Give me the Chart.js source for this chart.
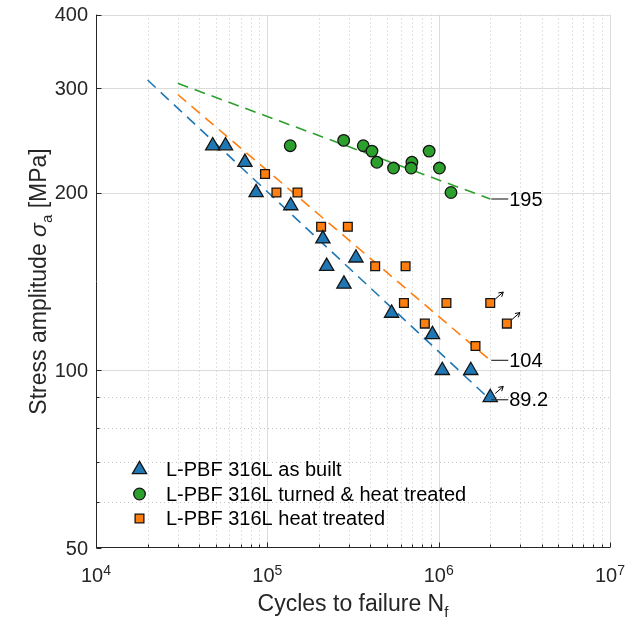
<!DOCTYPE html>
<html>
<head>
<meta charset="utf-8">
<script src="https://cdn.jsdelivr.net/npm/chart.js@4.4.0/dist/chart.umd.min.js"></script>
<style>
  html, body { margin: 0; padding: 0; background: #fff; }
  #wrap { width: 640px; height: 624px; }
</style>
</head>
<body>
<div id="wrap"><canvas id="snChart" width="640" height="624"></canvas></div>
<script>
// cycles to failure and stress amplitude (MPa)
const asBuiltN = [4.8e4, 5.7e4, 7.4e4, 8.6e4, 1.37e5, 2.11e5, 2.22e5, 2.8e5, 3.29e5, 5.31e5, 9.2e5, 1.05e6, 1.54e6, 2.0e6];
const asBuiltS = [240, 240, 225, 200, 190, 167, 150, 140, 155, 125, 115, 100, 100, 90];
const asBuiltRunouts = [13];

const turnedN = [1.36e5, 2.79e5, 3.63e5, 4.08e5, 4.36e5, 5.45e5, 6.98e5, 6.91e5, 8.8e5, 1.01e6, 1.18e6];
const turnedS = [240, 245, 240, 235, 225, 220, 225, 220, 235, 220, 200];
const turnedRunouts = [];

const heatN = [9.7e4, 1.13e5, 1.5e5, 2.06e5, 2.95e5, 4.26e5, 6.41e5, 6.27e5, 1.11e6, 2.0e6, 8.3e5, 2.5e6, 1.64e6];
const heatS = [215, 200, 200, 175, 175, 150, 150, 130, 130, 130, 120, 120, 110];
const heatRunouts = [9, 11];

// fitted lines: first and last point of each
const fitAsBuiltN = [2e4, 2e6];
const fitAsBuiltS = [310, 89.2];
const fitTurnedN = [3e4, 2e6];
const fitTurnedS = [306, 195];
const fitHeatN = [3e4, 2e6];
const fitHeatS = [293, 104];

const xMajorTicks = [1e4, 1e5, 1e6, 1e7];
const xMinorTicks = [2e4, 3e4, 4e4, 5e4, 6e4, 7e4, 8e4, 9e4,
                     2e5, 3e5, 4e5, 5e5, 6e5, 7e5, 8e5, 9e5,
                     2e6, 3e6, 4e6, 5e6, 6e6, 7e6, 8e6, 9e6];
const yTicks = [50, 100, 200, 300, 400];
const yMinorTicks = [60, 70, 80, 90];

const BLUE = '#1f77b4';
const GREEN = '#2ca02c';
const ORANGE = '#ff7f0e';
const EDGE = '#151515';
const INK = '#262626';
const FONT = '"Liberation Sans", Arial, Helvetica, sans-serif';

const toPoints = (ns, ss) => ns.map((n, i) => ({ x: n, y: ss[i] }));

const markerSet = (label, ns, ss, style, radius, color, runouts) => ({
    label,
    data: toPoints(ns, ss),
    showLine: false,
    pointStyle: style,
    pointRadius: radius,
    pointHoverRadius: radius,
    backgroundColor: color,
    pointBackgroundColor: color,
    borderColor: EDGE,
    pointBorderColor: EDGE,
    pointBorderWidth: 1.3,
    runouts
});

const fitSet = (ns, ss, color) => ({
    label: '',
    data: toPoints(ns, ss),
    showLine: true,
    fill: false,
    borderColor: color,
    borderWidth: 1.6,
    borderDash: [11, 7],
    pointRadius: 0,
    isFit: true
});

const drawMarker = (ctx, style, x, y, r) => {
    ctx.beginPath();
    if (style === 'circle') {
        ctx.arc(x, y, r, 0, Math.PI * 2);
    } else if (style === 'triangle') {
        ctx.moveTo(x, y - r);
        ctx.lineTo(x + r * Math.sin(Math.PI * 2 / 3), y + r / 2);
        ctx.lineTo(x - r * Math.sin(Math.PI * 2 / 3), y + r / 2);
    } else {
        const s = r * Math.SQRT1_2;
        ctx.rect(x - s, y - s, 2 * s, 2 * s);
    }
    ctx.closePath();
    ctx.fill();
    ctx.stroke();
};

const drawRunout = (ctx, px, py) => {
    const x0 = px + 5, y0 = py - 4, x1 = px + 13, y1 = py - 11;
    const ang = Math.atan2(y1 - y0, x1 - x0);
    ctx.beginPath();
    ctx.moveTo(x0, y0);
    ctx.lineTo(x1, y1);
    ctx.moveTo(x1 + 5 * Math.cos(ang + 2.6), y1 + 5 * Math.sin(ang + 2.6));
    ctx.lineTo(x1, y1);
    ctx.lineTo(x1 + 5 * Math.cos(ang - 2.6), y1 + 5 * Math.sin(ang - 2.6));
    ctx.stroke();
};

// draws a run of text pieces [text, font, dy] centred on (0, 0)
const drawPieces = (ctx, pieces) => {
    const widths = pieces.map(([t, f]) => { ctx.font = f; return ctx.measureText(t).width; });
    let cx = -widths.reduce((a, b) => a + b, 0) / 2;
    pieces.forEach(([t, f, dy], i) => {
        ctx.font = f;
        ctx.fillText(t, cx, dy);
        cx += widths[i];
    });
};

const decorations = {
    id: 'decorations',
    beforeDatasetsDraw(chart) {
        const { ctx, chartArea: a, scales: { x, y } } = chart;
        const seg = (x0, y0, x1, y1) => { ctx.beginPath(); ctx.moveTo(x0, y0); ctx.lineTo(x1, y1); ctx.stroke(); };
        const xp = (v) => Math.round(x.getPixelForValue(v)) + 0.5;
        const yp = (v) => Math.round(y.getPixelForValue(v)) + 0.5;
        ctx.save();
        ctx.lineWidth = 1;

        ctx.strokeStyle = '#c4c4c4';
        ctx.setLineDash([1, 3]);
        xMinorTicks.forEach((v) => seg(xp(v), a.top, xp(v), a.bottom));
        yMinorTicks.forEach((v) => seg(a.left, yp(v), a.right, yp(v)));

        ctx.setLineDash([]);
        ctx.strokeStyle = '#dcdcdc';
        xMajorTicks.slice(1).forEach((v) => seg(xp(v), a.top, xp(v), a.bottom));
        yTicks.slice(1).forEach((v) => seg(a.left, yp(v), a.right, yp(v)));

        ctx.strokeStyle = INK;
        const left = Math.round(a.left) + 0.5;
        const bottom = Math.round(a.bottom) - 0.5;
        seg(left, a.top, left, a.bottom);
        seg(a.left, bottom, a.right, bottom);
        xMajorTicks.forEach((v) => seg(xp(v), bottom, xp(v), bottom - 5));
        xMinorTicks.forEach((v) => seg(xp(v), bottom, xp(v), bottom - 3));
        yTicks.forEach((v) => seg(left, yp(v), left + 5, yp(v)));
        yMinorTicks.forEach((v) => seg(left, yp(v), left + 3, yp(v)));
        ctx.restore();
    },
    afterDatasetsDraw(chart) {
        const { ctx } = chart;
        ctx.save();
        chart.data.datasets.forEach((ds, i) => {
            const meta = chart.getDatasetMeta(i);
            if (ds.runouts) {
                ctx.strokeStyle = '#000';
                ctx.lineWidth = 1;
                ds.runouts.forEach((j) => drawRunout(ctx, meta.data[j].x, meta.data[j].y));
            }
            if (ds.isFit) {
                const end = meta.data[meta.data.length - 1];
                const value = ds.data[ds.data.length - 1].y;
                ctx.strokeStyle = '#333';
                ctx.lineWidth = 1.2;
                ctx.beginPath();
                ctx.moveTo(end.x + 1, end.y);
                ctx.lineTo(end.x + 18, end.y);
                ctx.stroke();
                ctx.fillStyle = '#000';
                ctx.font = `20px ${FONT}`;
                ctx.textAlign = 'left';
                ctx.textBaseline = 'middle';
                ctx.fillText(String(value), end.x + 19, end.y + 1);
            }
        });
        ctx.restore();
    },
    afterDraw(chart) {
        const { ctx, chartArea: a, scales: { x, y } } = chart;
        ctx.save();
        ctx.fillStyle = INK;

        // y tick labels
        ctx.font = `20px ${FONT}`;
        ctx.textAlign = 'right';
        ctx.textBaseline = 'middle';
        yTicks.forEach((v) => ctx.fillText(String(v), a.left - 8, y.getPixelForValue(v) + 1));

        // x tick labels as 10 with a raised exponent
        ctx.textAlign = 'left';
        ctx.textBaseline = 'alphabetic';
        xMajorTicks.forEach((v) => {
            const px = x.getPixelForValue(v);
            const exp = String(Math.round(Math.log10(v)));
            ctx.save();
            ctx.translate(px, a.bottom + 33.5);
            drawPieces(ctx, [['10', `20px ${FONT}`, 0], [exp, `14px ${FONT}`, -7]]);
            ctx.restore();
        });

        // axis titles
        ctx.save();
        ctx.translate((a.left + a.right) / 2, a.bottom + 62.5);
        drawPieces(ctx, [['Cycles to failure N', `23px ${FONT}`, 0], ['f', `15px ${FONT}`, 6]]);
        ctx.restore();

        ctx.save();
        ctx.translate(46, (a.top + a.bottom) / 2);
        ctx.rotate(-Math.PI / 2);
        drawPieces(ctx, [
            ['Stress amplitude ', `23px ${FONT}`, 0],
            ['σ', `italic 23px ${FONT}`, 0],
            ['a', `15px ${FONT}`, 6],
            [' [MPa]', `23px ${FONT}`, 0]
        ]);
        ctx.restore();

        // legend
        let row = 0;
        chart.data.datasets.forEach((ds) => {
            if (ds.isFit) return;
            const ly = a.bottom - 78.8 + row * 24.5;
            ctx.fillStyle = ds.backgroundColor;
            ctx.strokeStyle = EDGE;
            ctx.lineWidth = ds.pointBorderWidth;
            drawMarker(ctx, ds.pointStyle, a.left + 43.5, ly, ds.pointRadius);
            ctx.fillStyle = '#000';
            ctx.font = `20px ${FONT}`;
            ctx.textAlign = 'left';
            ctx.textBaseline = 'middle';
            ctx.fillText(ds.label, a.left + 70, ly + 1);
            row += 1;
        });
        ctx.restore();
    }
};

new Chart(document.getElementById('snChart'), {
    type: 'scatter',
    data: {
        datasets: [
            markerSet('L-PBF 316L as built', asBuiltN, asBuiltS, 'triangle', 8.2, BLUE, asBuiltRunouts),
            markerSet('L-PBF 316L turned & heat treated', turnedN, turnedS, 'circle', 5.8, GREEN, turnedRunouts),
            markerSet('L-PBF 316L heat treated', heatN, heatS, 'rect', 6.2, ORANGE, heatRunouts),
            fitSet(fitAsBuiltN, fitAsBuiltS, BLUE),
            fitSet(fitTurnedN, fitTurnedS, GREEN),
            fitSet(fitHeatN, fitHeatS, ORANGE)
        ]
    },
    options: {
        responsive: false,
        animation: false,
        devicePixelRatio: 1,
        events: [],
        layout: { padding: { left: 96, top: 14.6, right: 30, bottom: 75.7 } },
        plugins: { legend: { display: false }, tooltip: { enabled: false } },
        scales: {
            x: { type: 'logarithmic', min: 1e4, max: 1e7, display: false },
            y: { type: 'logarithmic', min: 50, max: 400, display: false }
        }
    },
    plugins: [decorations]
});
</script>
</body>
</html>
